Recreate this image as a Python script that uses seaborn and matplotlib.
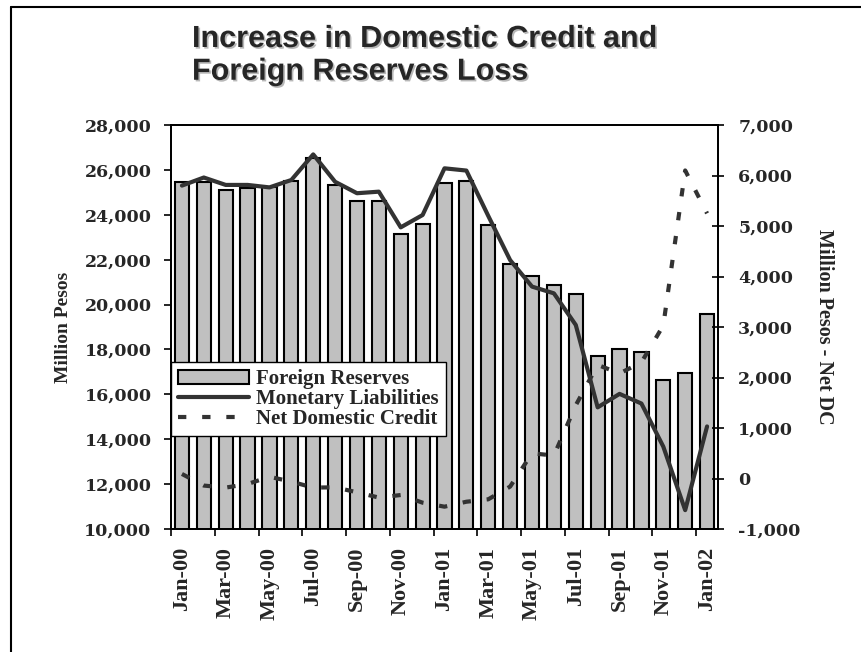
import numpy as np
import pandas as pd
import seaborn as sns
import matplotlib
matplotlib.use("Agg")
import matplotlib.pyplot as plt
from matplotlib.lines import Line2D
from matplotlib.patches import Patch
from matplotlib.ticker import FuncFormatter, FixedLocator
import matplotlib.patheffects as pe

# ---------------- data ----------------
months = ['Jan-00', 'Feb-00', 'Mar-00', 'Apr-00', 'May-00', 'Jun-00', 'Jul-00',
          'Aug-00', 'Sep-00', 'Oct-00', 'Nov-00', 'Dec-00', 'Jan-01', 'Feb-01',
          'Mar-01', 'Apr-01', 'May-01', 'Jun-01', 'Jul-01', 'Aug-01', 'Sep-01',
          'Oct-01', 'Nov-01', 'Dec-01', 'Jan-02']
foreign_reserves = [25450, 25480, 25100, 25180, 25250, 25500, 26520, 25330,
                    24630, 24630, 23130, 23590, 25430, 25500, 23540, 21800,
                    21270, 20870, 20480, 17720, 18020, 17870, 16640, 16935, 19580]
monetary_liabilities = [25300, 25660, 25330, 25330, 25220, 25550, 26690, 25470,
                        24960, 25030, 23440, 23990, 26070, 25970, 23950, 21980,
                        20800, 20500, 19090, 15420, 16020, 15590, 13670, 10840, 14570]
net_domestic_credit = [90, -140, -180, -110, 35, -63, -180, -175, -273, -378,
                       -327, -479, -558, -460, -412, -160, 499, 455, 1450, 2250,
                       2080, 2300, 3030, 6100, 5250]
left_ticks = [10000, 12000, 14000, 16000, 18000, 20000, 22000, 24000, 26000, 28000]
right_ticks = [-1000, 0, 1000, 2000, 3000, 4000, 5000, 6000, 7000]

title = "Increase in Domestic Credit and\nForeign Reserves Loss"
series_names = ["Foreign Reserves", "Monetary Liabilities", "Net Domestic Credit"]

df = pd.DataFrame({
    "month": months,
    "pos": np.arange(len(months)),
    "reserves": foreign_reserves,
    "monetary": monetary_liabilities,
    "ndc": net_domestic_credit,
})

# ---------------- style ----------------
sns.set_theme(style="white")
plt.rcParams["font.family"] = ["DejaVu Serif", "DejaVu Sans"]

W, H = 862, 652
fig = plt.figure(figsize=(W / 100, H / 100), dpi=100)
fig.patch.set_facecolor("white")

ax = fig.add_axes([171 / W, 1 - 529 / H, 547 / W, 404 / H])
ax.set_facecolor("white")

bar_color = "#c0c0c0"
line_color = "#333333"
ndc_dash = [2.0, 3.8]

sns.barplot(data=df, x="pos", y="reserves", color=bar_color, saturation=1,
            edgecolor="black", linewidth=1.5, width=0.65, ax=ax)
sns.lineplot(data=df, x="pos", y="monetary", color=line_color, linewidth=3,
             ax=ax, legend=False)

ax2 = ax.twinx()
sns.lineplot(data=df, x="pos", y="ndc", color=line_color, linewidth=3.0,
             ax=ax2, legend=False)
for ln in ax2.lines:
    ln.set_dashes(ndc_dash)

for a in (ax, ax2):
    a.set_xlim(-0.5, len(months) - 0.5)
ax.set_ylim(10000, 28000)
ax2.set_ylim(-1000, 7000)

# x axis: labels every two months, tick marks at group boundaries
ax.set_xticks(np.arange(0, len(months), 2))
ax.set_xticklabels(months[::2], rotation=90, fontfamily="Liberation Serif",
                   fontweight="bold", fontsize=16)
ax.xaxis.set_minor_locator(FixedLocator(np.arange(-0.5, len(months) - 1, 2)))
ax.tick_params(axis="x", which="major", length=0, pad=13)
ax.tick_params(axis="x", which="minor", length=5, width=1.2, direction="out",
               color="black", bottom=True)
ax.set_xlabel("")

fmt = FuncFormatter(lambda v, p: f"{v:,.0f}")
ax.set_yticks(left_ticks)
ax.yaxis.set_major_formatter(fmt)
ax.tick_params(axis="y", which="major", length=5, width=1.2, direction="out",
               color="black", left=True, pad=9)
for t in ax.get_yticklabels():
    t.set_fontweight("bold")
    t.set_fontsize(12.5)
    t.set_fontfamily("DejaVu Serif")

ax2.set_yticks(right_ticks)
ax2.yaxis.set_major_formatter(fmt)
ax2.tick_params(axis="y", which="major", length=9, width=1.2, direction="inout",
                color="black", right=True, pad=10)
for t in ax2.get_yticklabels():
    t.set_fontweight("bold")
    t.set_fontsize(12.5)
    t.set_fontfamily("DejaVu Serif")
ax2.tick_params(axis="x", which="both", length=0)

ax.set_ylabel("Million Pesos", fontfamily="Liberation Serif", fontweight="bold",
              fontsize=14, labelpad=9)
ax2.set_ylabel("Million Pesos - Net DC", fontfamily="Liberation Serif",
               fontweight="bold", fontsize=14.5, rotation=270, va="bottom",
               labelpad=10)

for a in (ax, ax2):
    for s in a.spines.values():
        s.set_visible(True)
        s.set_color("black")
        s.set_linewidth(1.3)

# legend
handles = [
    Patch(facecolor=bar_color, edgecolor="black", linewidth=1.5),
    Line2D([], [], color=line_color, linewidth=3),
    Line2D([], [], color=line_color, linewidth=3.0, dashes=ndc_dash),
]
leg = ax2.legend(handles, series_names, loc="upper left",
                 bbox_to_anchor=(0.0, (529 - 361.7) / 404), borderaxespad=0,
                 prop={"family": "Liberation Serif", "weight": "bold", "size": 15},
                 frameon=True, fancybox=False, framealpha=1, edgecolor="black",
                 handlelength=3.4, handletextpad=0.35, labelspacing=0.0,
                 borderpad=0.35, handleheight=0.65)
leg.get_frame().set_linewidth(1.0)

# title
fig.text(192 / W, 1 - 24 / H, title, ha="left", va="top",
         fontfamily="Liberation Sans", fontweight="bold", fontsize=22,
         linespacing=1.12,
         path_effects=[pe.SimplePatchShadow(offset=(1.2, -1.2),
                                            shadow_rgbFace="#999999", alpha=0.7),
                       pe.Normal()])

# outer frame (left and top edges visible in the reference)
fig.add_artist(Line2D([11 / W, 11 / W], [0, 1 - 7 / H], transform=fig.transFigure,
                      color="black", linewidth=1.5))
fig.add_artist(Line2D([11 / W, 1], [1 - 7 / H, 1 - 7 / H], transform=fig.transFigure,
                      color="black", linewidth=1.5))

fig.savefig("out.png", dpi=100)
